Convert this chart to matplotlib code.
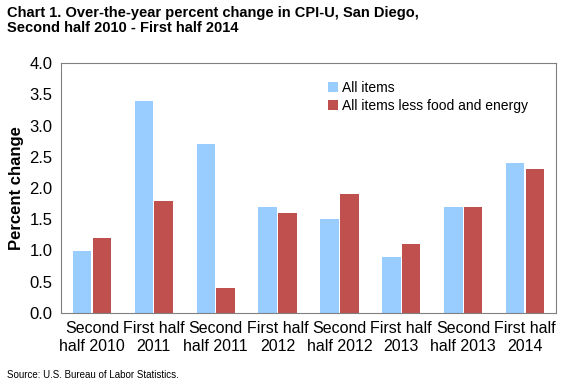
import matplotlib
matplotlib.use("Agg")
import matplotlib.pyplot as plt
import numpy as np

plt.rcParams['font.family'] = ['Liberation Sans', 'DejaVu Sans']

categories = ["Second\nhalf 2010", "First half\n2011", "Second\nhalf 2011", "First half\n2012",
              "Second\nhalf 2012", "First half\n2013", "Second\nhalf 2013", "First half\n2014"]
all_items = [1.0, 3.4, 2.7, 1.7, 1.5, 0.9, 1.7, 2.4]
core_items = [1.2, 1.8, 0.4, 1.6, 1.9, 1.1, 1.7, 2.3]
yticks = [0.0, 0.5, 1.0, 1.5, 2.0, 2.5, 3.0, 3.5, 4.0]

fig = plt.figure(figsize=(5.76, 3.84), dpi=100)
ax = fig.add_axes([61/576, 1 - 313/384, (556-61)/576, (313-63)/384])

x = np.arange(len(categories))
w = 0.3
ax.bar(x - w/2 - 0.01, all_items, w, color="#99CCFF", label="All items")
ax.bar(x + w/2 + 0.01, core_items, w, color="#C0504D", label="All items less food and energy")

ax.set_xlim(-0.5, len(categories) - 0.5)
ax.set_ylim(0, 4.0)
ax.set_yticks(yticks)
ax.set_yticklabels([f"{v:.1f}" for v in yticks], fontsize=12)
ax.set_xticks(x)
ax.set_xticklabels(categories, fontsize=11.5)
ax.tick_params(length=0, pad=6)
for s in ax.spines.values():
    s.set_color("#808080")
ax.set_ylabel("Percent change", fontsize=12, fontweight="bold", labelpad=4)

ax.legend(loc="upper left", bbox_to_anchor=(0.515, 0.98), frameon=False, fontsize=10,
          handlelength=0.7, handleheight=0.7, handletextpad=0.3, labelspacing=0.3)

fig.text(0.012, 0.985, "Chart 1. Over-the-year percent change in CPI-U, San Diego,\nSecond half 2010 - First half 2014",
         fontsize=10.5, fontweight="bold", va="top", ha="left", linespacing=1.15)
fig.text(0.012, 0.01, "Source: U.S. Bureau of Labor Statistics.", fontsize=7, ha="left", va="bottom")

fig.savefig("out.png", dpi=100)
